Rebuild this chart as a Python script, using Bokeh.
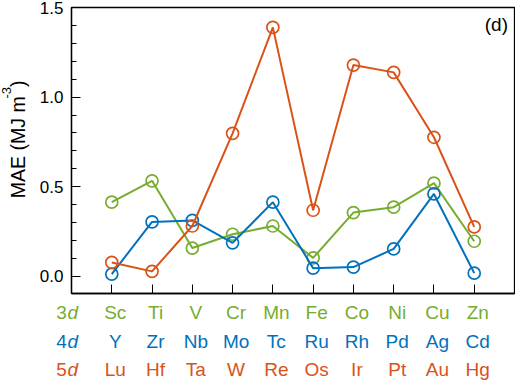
import math
from bokeh.plotting import figure
from bokeh.layouts import column, row
from bokeh.models import (Range1d, SingleIntervalTicker, FixedTicker, PrintfTickFormatter,
                          Label, ColumnDataSource)
from bokeh.core.properties import value
from bokeh.embed import file_html
from bokeh.resources import INLINE

# ---------------- data ----------------
elements_3d = ["Sc", "Ti", "V", "Cr", "Mn", "Fe", "Co", "Ni", "Cu", "Zn"]
elements_4d = ["Y", "Zr", "Nb", "Mo", "Tc", "Ru", "Rh", "Pd", "Ag", "Cd"]
elements_5d = ["Lu", "Hf", "Ta", "W", "Re", "Os", "Ir", "Pt", "Au", "Hg"]
mae_3d = [0.414, 0.533, 0.158, 0.235, 0.281, 0.103, 0.356, 0.386, 0.520, 0.196]
mae_4d = [0.013, 0.304, 0.312, 0.187, 0.414, 0.046, 0.052, 0.153, 0.460, 0.018]
mae_5d = [0.078, 0.028, 0.281, 0.798, 1.389, 0.369, 1.179, 1.138, 0.776, 0.276]
row_numbers = ["3", "4", "5"]
ylabel_main, ylabel_sup, ylabel_end = "MAE (MJ m", "-3", ")"
panel_tag = "(d)"

GREEN = "#77AC30"
BLUE = "#0072BD"
ORANGE = "#D95319"
FONT = "Liberation Sans"

# ---------------- layout (page pixels) ----------------
LEFT_W = 30              # strip holding the y label
MAIN_W, MAIN_H = 485, 300
BOTTOM_H = 82
FRAME_L, FRAME_T = 71, 7     # frame position on the page
FRAME_W, FRAME_H = 443, 286
X0, X1 = -1, 10
Y0, Y1 = -0.0955, 1.5


def xd(px):
    """page x pixel -> data x of the main plot"""
    return X0 + (px - FRAME_L) * (X1 - X0) / FRAME_W


def yd(py):
    """page y pixel -> data y of the main plot"""
    return Y0 + (FRAME_T + FRAME_H - py) * (Y1 - Y0) / FRAME_H


# ---------------- main plot ----------------
p = figure(width=MAIN_W, height=MAIN_H, output_backend="svg", toolbar_location=None,
           x_range=Range1d(X0, X1), y_range=Range1d(Y0, Y1),
           min_border_left=FRAME_L - LEFT_W, min_border_top=FRAME_T,
           min_border_right=MAIN_W - (FRAME_L - LEFT_W) - FRAME_W,
           min_border_bottom=MAIN_H - FRAME_T - FRAME_H)
p.background_fill_color = "white"
p.border_fill_color = "white"
p.outline_line_color = "black"
p.outline_line_width = 1.3
p.xgrid.visible = False
p.ygrid.visible = False

ya = p.yaxis[0]
ya.ticker = SingleIntervalTicker(interval=0.5, num_minor_ticks=5)
ya.formatter = PrintfTickFormatter(format="%.1f")
ya.major_tick_in = 9
ya.major_tick_out = 0
ya.minor_tick_in = 5
ya.minor_tick_out = 0
ya.major_tick_line_color = "black"
ya.minor_tick_line_color = "black"
ya.axis_line_color = "black"
ya.axis_line_width = 1.3
ya.major_label_standoff = 8
ya.major_label_text_font = FONT
ya.major_label_text_font_size = "17px"
ya.major_label_text_color = "black"

xs = list(range(len(elements_3d)))
xa = p.xaxis[0]
xa.ticker = FixedTicker(ticks=xs)
xa.major_label_overrides = {i: "" for i in xs}
xa.major_tick_in = 9
xa.major_tick_out = 0
xa.minor_tick_line_color = None
xa.major_tick_line_color = "black"
xa.axis_line_color = "black"
xa.axis_line_width = 1.3
xa.major_label_standoff = 0

for vals, col in [(mae_3d, GREEN), (mae_4d, BLUE), (mae_5d, ORANGE)]:
    src = ColumnDataSource(dict(x=xs, y=vals))
    p.line("x", "y", source=src, line_color=col, line_width=2)
    p.scatter("x", "y", source=src, marker="circle", size=12, fill_color=None,
              line_color=col, line_width=1.7)

p.add_layout(Label(x=xd(507.5), y=yd(23.8), text=panel_tag, text_align="right",
                   text_baseline="middle", text_font=FONT,
                   text_font_size="19px", text_color="black"))

# ---------------- left strip: y label ----------------
pl = figure(width=LEFT_W, height=MAIN_H, output_backend="svg", toolbar_location=None,
            x_range=Range1d(0, LEFT_W), y_range=Range1d(MAIN_H, 0),
            x_axis_location=None, y_axis_location=None,
            min_border=0, outline_line_color=None)
pl.grid.visible = False
pl.background_fill_color = "white"
pl.border_fill_color = "white"
pl.text(x=[17], y=[200], text=[ylabel_main], angle=math.pi / 2, text_align="left",
        text_baseline="middle", text_font=value(FONT), text_font_size="19.5px",
        text_color="black")
pl.text(x=[6], y=[95.5], text=[ylabel_sup], angle=math.pi / 2, text_align="left",
        text_baseline="middle", text_font=value(FONT), text_font_size="13px",
        text_color="black")
pl.text(x=[17], y=[83.5], text=[ylabel_end], angle=math.pi / 2, text_align="left",
        text_baseline="middle", text_font=value(FONT), text_font_size="19.5px",
        text_color="black")

# ---------------- bottom strip: element rows ----------------
TOTAL_W = LEFT_W + MAIN_W
pb = figure(width=TOTAL_W, height=BOTTOM_H, output_backend="svg", toolbar_location=None,
            x_range=Range1d(xd(0), xd(TOTAL_W)), y_range=Range1d(MAIN_H + BOTTOM_H, MAIN_H),
            x_axis_location=None, y_axis_location=None,
            min_border=0, outline_line_color=None)
pb.grid.visible = False
pb.background_fill_color = "white"
pb.border_fill_color = "white"

for names, col, num, mid_py in [(elements_3d, GREEN, row_numbers[0], 312),
                                (elements_4d, BLUE, row_numbers[1], 340.5),
                                (elements_5d, ORANGE, row_numbers[2], 369)]:
    src = ColumnDataSource(dict(x=xs, y=[mid_py] * len(xs), text=names))
    pb.text(x="x", y="y", text="text", source=src, x_offset=3.5,
            text_align="center", text_baseline="middle",
            text_font=value(FONT), text_font_size="19px", text_color=col)
    pb.text(x=[xd(55.8)], y=[mid_py], text=[num], text_align="left",
            text_baseline="middle", text_font=value(FONT),
            text_font_size="19px", text_color=col)
    pb.text(x=[xd(67.0)], y=[mid_py], text=["d"], text_align="left",
            text_baseline="middle", text_font=value(FONT),
            text_font_style="italic", text_font_size="19px", text_color=col)

layout = column(row(pl, p), pb)
open("out.html", "w").write(file_html(layout, INLINE))
